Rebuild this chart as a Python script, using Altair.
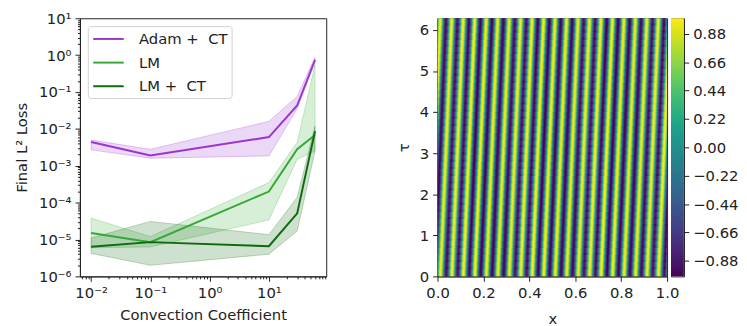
import math
import numpy as np
import pandas as pd
import altair as alt

FONT = "DejaVu Sans"

# ---------------- left panel data ----------------
coef = [0.01, 0.1, 10, 30, 60]
series_names = ["Adam + \u00a0CT", "LM", "LM + \u00a0CT"]
series_colors = ["#9b35d0", "#35a835", "#0c6b0c"]

adam_ct = [4.4e-3, 1.9e-3, 6.0e-3, 4.3e-2, 0.75]
adam_ct_lo = [2.7e-3, 1.6e-3, 1.85e-3, 3.5e-2, 0.62]
adam_ct_hi = [5.0e-3, 2.8e-3, 1.6e-2, 7.6e-2, 0.88]

lm = [1.5e-5, 8.5e-6, 2.0e-4, 2.8e-3, 6.8e-3]
lm_lo = [6.0e-6, 6.3e-6, 3.4e-5, 1.5e-3, 2.5e-3]
lm_hi = [3.8e-5, 1.2e-5, 3.5e-4, 4.3e-3, 0.55]

lmct = [6.4e-6, 8.5e-6, 6.6e-6, 5.1e-5, 8.7e-3]
lmct_lo = [4.2e-6, 2.0e-6, 4.0e-6, 1.7e-5, 2.5e-3]
lmct_hi = [1.1e-5, 3.1e-5, 1.35e-5, 1.4e-4, 1.2e-2]

y_major = [1e-6, 1e-5, 1e-4, 1e-3, 1e-2, 1e-1, 1, 10]
y_major_labels = ["10\u207b\u2076", "10\u207b\u2075", "10\u207b\u2074", "10\u207b\u00b3",
                  "10\u207b\u00b2", "10\u207b\u00b9", "10\u2070", "10\u00b9"]
x_major = [0.01, 0.1, 1, 10]
x_major_labels = ["10\u207b\u00b2", "10\u207b\u00b9", "10\u2070", "10\u00b9"]

# ---------------- right panel data ----------------
WAVES = 20             # stripes across x in [0, 1]
TAU_MAX = 2 * math.pi  # tau range
NX, NT = 233, 36
x_ticks = [0.0, 0.2, 0.4, 0.6, 0.8, 1.0]
tau_ticks = [0, 1, 2, 3, 4, 5, 6]
cb_ticks = [-0.88, -0.66, -0.44, -0.22, 0.0, 0.22, 0.44, 0.66, 0.88]

# ---------------- build tables ----------------
rows = []
for name, mid, lo, hi in zip(series_names, [adam_ct, lm, lmct],
                             [adam_ct_lo, lm_lo, lmct_lo], [adam_ct_hi, lm_hi, lmct_hi]):
    for c, m, l, h in zip(coef, mid, lo, hi):
        rows.append({"coef": c, "series": name, "loss": m, "lo": l, "hi": h})
df = pd.DataFrame(rows)

minor_y = [m * 10.0 ** k for k in range(-6, 1) for m in range(2, 10)]
minor_x = [m * 10.0 ** k for k in range(-3, 2) for m in range(2, 10)]
minor_x = [v for v in minor_x if 10 ** -2.189 <= v <= 10 ** 1.967]

xdom = [10 ** -2.189, 10 ** 1.967]
ydom = [1e-6, 10]

def lab_expr(vals, labs):
    arr = "[" + ",".join("'%s'" % s for s in labs) + "]"
    k0 = int(round(math.log10(vals[0])))
    return "%s[round(log(datum.value)/LN10) - (%d)]" % (arr, k0)

color_scale = alt.Scale(domain=series_names, range=series_colors)

x_major_axis = alt.Axis(values=x_major, labelExpr=lab_expr(x_major, x_major_labels),
                        title="Convection Coefficient", grid=False, tickSize=5,
                        labelFontSize=15, titleFontSize=15, labelPadding=4, titlePadding=8,
                        orient="bottom", titleFontWeight="normal", labelFlush=False)
y_major_axis = alt.Axis(values=y_major, labelExpr=lab_expr(y_major, y_major_labels),
                        title="Final L\u00b2 Loss", grid=False, tickSize=5,
                        labelFontSize=15, titleFontSize=15, labelPadding=4, titlePadding=9,
                        orient="left", titleFontWeight="normal", labelFlush=False)

band = alt.Chart(df).mark_area(fillOpacity=0.2, strokeOpacity=0.25, strokeWidth=1, clip=True).encode(
    x=alt.X("coef:Q", scale=alt.Scale(type="log", domain=xdom, nice=False),
            axis=alt.Axis(values=minor_x, labels=False, title=None, grid=False, tickSize=2.5,
                          orient="bottom", domain=False)),
    y=alt.Y("lo:Q", scale=alt.Scale(type="log", domain=ydom, nice=False),
            axis=alt.Axis(values=minor_y, labels=False, title=None, grid=False, tickSize=2.5,
                          orient="left", domain=False)),
    y2="hi:Q",
    fill=alt.Fill("series:N", scale=alt.Scale(domain=series_names, range=series_colors), legend=None),
    stroke=alt.Stroke("series:N", scale=alt.Scale(domain=series_names, range=series_colors), legend=None),
    detail="series:N",
)

lines = alt.Chart(df).mark_line(strokeWidth=2, clip=True).encode(
    x=alt.X("coef:Q", scale=alt.Scale(type="log", domain=xdom, nice=False), axis=x_major_axis),
    y=alt.Y("loss:Q", scale=alt.Scale(type="log", domain=ydom, nice=False), axis=y_major_axis),
    color=alt.Color("series:N", scale=color_scale,
                    legend=alt.Legend(title=None, orient="top-left", offset=8,
                                      symbolType="M-2,0H2", symbolSize=240, symbolStrokeWidth=2,
                                      symbolOffset=8, labelOffset=22,
                                      labelFontSize=15, rowPadding=7,
                                      padding=4, strokeColor="#d0d0d0", cornerRadius=3,
                                      fillColor="rgba(255,255,255,0.85)")),
)

left = alt.layer(band, lines).resolve_axis(x="independent", y="independent").properties(
    width=250, height=262)

# heatmap
xs = np.arange(NX) / NX
ts = np.arange(NT) / NT * TAU_MAX
hx, ht = np.meshgrid(xs, ts)
dx = 1.0 / NX
dt = TAU_MAX / NT
u = np.sin(2 * np.pi * WAVES * (hx + dx / 2) - (ht + dt / 2))
hdf = pd.DataFrame({"x0": hx.ravel().round(5), "t0": ht.ravel().round(4), "u": u.ravel().round(3)})

heat = alt.Chart(hdf).transform_calculate(
    x1="datum.x0 + %f" % (dx * 1.5), t1="datum.t0 + %f" % (dt * 1.3)
).mark_rect(strokeWidth=0, clip=True).encode(
    x=alt.X("x0:Q", scale=alt.Scale(domain=[0, 1], nice=False, zero=False),
            axis=alt.Axis(values=x_ticks, format=".1f", title="x", grid=False, tickSize=5,
                          labelFontSize=15, titleFontSize=15, titleFontWeight="normal",
                          labelPadding=4, titlePadding=12, labelFlush=False)),
    x2="x1:Q",
    y=alt.Y("t0:Q", scale=alt.Scale(domain=[0, TAU_MAX], nice=False, zero=False),
            axis=alt.Axis(values=tau_ticks, format="d", title="\u03c4", grid=False, tickSize=5,
                          labelFontSize=15, titleFontSize=15, titleFontWeight="normal",
                          labelPadding=4, titlePadding=8, labelFlush=False)),
    y2="t1:Q",
    color=alt.Color("u:Q", scale=alt.Scale(scheme="viridis", domain=[-1, 1]), legend=None),
).properties(width=233, height=262)

# colorbar
cb_n = 120
cb_v = np.linspace(-1, 1, cb_n + 1)
cbdf = pd.DataFrame({"v0": cb_v[:-1].round(4), "v1": (cb_v[1:] + 0.01).round(4),
                     "c": ((cb_v[:-1] + cb_v[1:]) / 2).round(4)})
cbar = alt.Chart(cbdf).mark_rect(strokeWidth=0, clip=True).encode(
    x=alt.value(0), x2=alt.value(13),
    y=alt.Y("v0:Q", scale=alt.Scale(domain=[-1, 1], nice=False, zero=False),
            axis=alt.Axis(values=cb_ticks, format=".2f", orient="right", title=None, grid=False,
                          tickSize=5, labelFontSize=15, labelPadding=4, labelFlush=False)),
    y2="v1:Q",
    color=alt.Color("c:Q", scale=alt.Scale(scheme="viridis", domain=[-1, 1]), legend=None),
).properties(width=13, height=262)

right = alt.hconcat(heat, cbar, spacing=4, bounds="flush")

chart = alt.hconcat(left, right, spacing=113, bounds="flush").properties(
    padding={"left": 6, "top": 0, "right": 0, "bottom": 0}
).configure(font=FONT).configure_view(stroke="#222222", strokeWidth=1).configure_axis(
    domainColor="#222222", tickColor="#222222", labelColor="#222222", titleColor="#222222",
    labelFont=FONT, titleFont=FONT
).configure_legend(labelFont=FONT, labelColor="#222222")

chart.save("out.html", embed_options={"renderer": "svg", "actions": False})
